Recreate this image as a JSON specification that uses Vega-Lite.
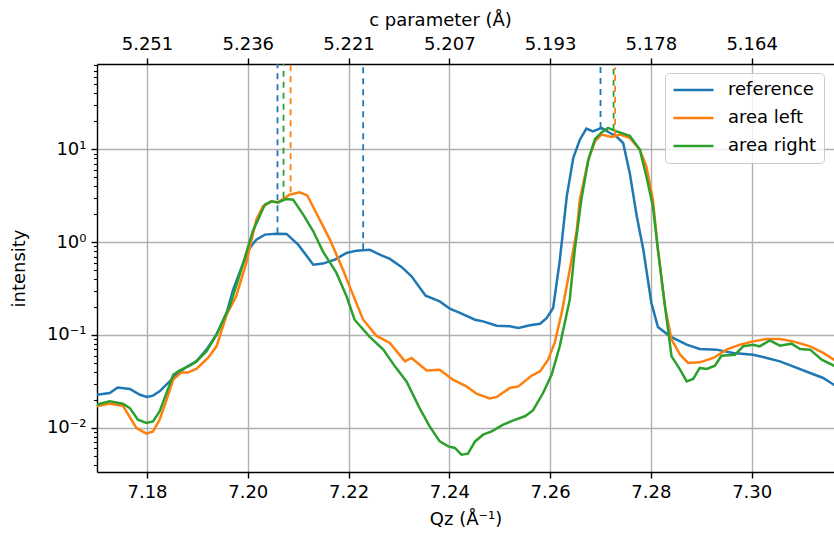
{
  "$schema": "https://vega.github.io/schema/vega-lite/v6.json",
  "width": 737,
  "height": 408,
  "autosize": {"type": "none"},
  "padding": {"left": 97, "top": 64, "right": 0, "bottom": 63},
  "config": {
    "font": "DejaVu Sans",
    "view": {"stroke": null},
    "axis": {
      "labelFont": "DejaVu Sans",
      "titleFont": "DejaVu Sans",
      "labelFontSize": 18,
      "titleFontSize": 18,
      "titleFontWeight": "normal",
      "labelColor": "#000000",
      "titleColor": "#000000",
      "domainColor": "#000000",
      "domainWidth": 1.4,
      "tickColor": "#000000",
      "tickWidth": 1.4,
      "tickSize": 6,
      "labelPadding": 5,
      "gridColor": "#b0b0b0",
      "gridWidth": 1.4
    }
  },
  "datasets": {
    "curves": [
      {"sample": "reference", "qz": 7.1700, "intensity": 0.0227},
      {"sample": "reference", "qz": 7.1726, "intensity": 0.0237},
      {"sample": "reference", "qz": 7.1742, "intensity": 0.0272},
      {"sample": "reference", "qz": 7.1766, "intensity": 0.0262},
      {"sample": "reference", "qz": 7.1786, "intensity": 0.0227},
      {"sample": "reference", "qz": 7.1800, "intensity": 0.0215},
      {"sample": "reference", "qz": 7.1812, "intensity": 0.0222},
      {"sample": "reference", "qz": 7.1825, "intensity": 0.0247},
      {"sample": "reference", "qz": 7.1845, "intensity": 0.0316},
      {"sample": "reference", "qz": 7.1858, "intensity": 0.0373},
      {"sample": "reference", "qz": 7.1878, "intensity": 0.0452},
      {"sample": "reference", "qz": 7.1898, "intensity": 0.0519},
      {"sample": "reference", "qz": 7.1918, "intensity": 0.0695},
      {"sample": "reference", "qz": 7.1938, "intensity": 0.101},
      {"sample": "reference", "qz": 7.1958, "intensity": 0.173},
      {"sample": "reference", "qz": 7.1971, "intensity": 0.308},
      {"sample": "reference", "qz": 7.1991, "intensity": 0.597},
      {"sample": "reference", "qz": 7.2004, "intensity": 0.866},
      {"sample": "reference", "qz": 7.2017, "intensity": 1.064},
      {"sample": "reference", "qz": 7.2034, "intensity": 1.205},
      {"sample": "reference", "qz": 7.2057, "intensity": 1.235},
      {"sample": "reference", "qz": 7.2077, "intensity": 1.226},
      {"sample": "reference", "qz": 7.2100, "intensity": 0.940},
      {"sample": "reference", "qz": 7.2130, "intensity": 0.572},
      {"sample": "reference", "qz": 7.2149, "intensity": 0.587},
      {"sample": "reference", "qz": 7.2173, "intensity": 0.648},
      {"sample": "reference", "qz": 7.2196, "intensity": 0.765},
      {"sample": "reference", "qz": 7.2216, "intensity": 0.810},
      {"sample": "reference", "qz": 7.2242, "intensity": 0.830},
      {"sample": "reference", "qz": 7.2262, "intensity": 0.733},
      {"sample": "reference", "qz": 7.2282, "intensity": 0.659},
      {"sample": "reference", "qz": 7.2305, "intensity": 0.541},
      {"sample": "reference", "qz": 7.2325, "intensity": 0.428},
      {"sample": "reference", "qz": 7.2353, "intensity": 0.265},
      {"sample": "reference", "qz": 7.2381, "intensity": 0.230},
      {"sample": "reference", "qz": 7.2401, "intensity": 0.192},
      {"sample": "reference", "qz": 7.2421, "intensity": 0.173},
      {"sample": "reference", "qz": 7.2451, "intensity": 0.146},
      {"sample": "reference", "qz": 7.2467, "intensity": 0.140},
      {"sample": "reference", "qz": 7.2494, "intensity": 0.126},
      {"sample": "reference", "qz": 7.2520, "intensity": 0.124},
      {"sample": "reference", "qz": 7.2537, "intensity": 0.119},
      {"sample": "reference", "qz": 7.2560, "intensity": 0.127},
      {"sample": "reference", "qz": 7.2580, "intensity": 0.132},
      {"sample": "reference", "qz": 7.2593, "intensity": 0.152},
      {"sample": "reference", "qz": 7.2606, "intensity": 0.195},
      {"sample": "reference", "qz": 7.2619, "intensity": 0.621},
      {"sample": "reference", "qz": 7.2633, "intensity": 3.09},
      {"sample": "reference", "qz": 7.2646, "intensity": 8.08},
      {"sample": "reference", "qz": 7.2659, "intensity": 12.7},
      {"sample": "reference", "qz": 7.2672, "intensity": 16.7},
      {"sample": "reference", "qz": 7.2685, "intensity": 15.6},
      {"sample": "reference", "qz": 7.2702, "intensity": 17.0},
      {"sample": "reference", "qz": 7.2719, "intensity": 15.0},
      {"sample": "reference", "qz": 7.2732, "intensity": 13.7},
      {"sample": "reference", "qz": 7.2745, "intensity": 11.7},
      {"sample": "reference", "qz": 7.2758, "intensity": 5.57},
      {"sample": "reference", "qz": 7.2772, "intensity": 1.90},
      {"sample": "reference", "qz": 7.2785, "intensity": 0.830},
      {"sample": "reference", "qz": 7.2801, "intensity": 0.221},
      {"sample": "reference", "qz": 7.2814, "intensity": 0.122},
      {"sample": "reference", "qz": 7.2838, "intensity": 0.0966},
      {"sample": "reference", "qz": 7.2871, "intensity": 0.0786},
      {"sample": "reference", "qz": 7.2897, "intensity": 0.0707},
      {"sample": "reference", "qz": 7.2930, "intensity": 0.0695},
      {"sample": "reference", "qz": 7.2963, "intensity": 0.0640},
      {"sample": "reference", "qz": 7.3003, "intensity": 0.0613},
      {"sample": "reference", "qz": 7.3030, "intensity": 0.0565},
      {"sample": "reference", "qz": 7.3056, "intensity": 0.0519},
      {"sample": "reference", "qz": 7.3082, "intensity": 0.0459},
      {"sample": "reference", "qz": 7.3116, "intensity": 0.0389},
      {"sample": "reference", "qz": 7.3142, "intensity": 0.0344},
      {"sample": "reference", "qz": 7.3163, "intensity": 0.0291},
      {"sample": "reference", "qz": 7.3175, "intensity": 0.0270},

      {"sample": "area left", "qz": 7.1700, "intensity": 0.0170},
      {"sample": "area left", "qz": 7.1726, "intensity": 0.0182},
      {"sample": "area left", "qz": 7.1752, "intensity": 0.0173},
      {"sample": "area left", "qz": 7.1779, "intensity": 0.00995},
      {"sample": "area left", "qz": 7.1799, "intensity": 0.00864},
      {"sample": "area left", "qz": 7.1812, "intensity": 0.00915},
      {"sample": "area left", "qz": 7.1825, "intensity": 0.0122},
      {"sample": "area left", "qz": 7.1839, "intensity": 0.0201},
      {"sample": "area left", "qz": 7.1852, "intensity": 0.0330},
      {"sample": "area left", "qz": 7.1868, "intensity": 0.0395},
      {"sample": "area left", "qz": 7.1881, "intensity": 0.0393},
      {"sample": "area left", "qz": 7.1898, "intensity": 0.0430},
      {"sample": "area left", "qz": 7.1921, "intensity": 0.0565},
      {"sample": "area left", "qz": 7.1938, "intensity": 0.0754},
      {"sample": "area left", "qz": 7.1958, "intensity": 0.165},
      {"sample": "area left", "qz": 7.1977, "intensity": 0.261},
      {"sample": "area left", "qz": 7.1997, "intensity": 0.597},
      {"sample": "area left", "qz": 7.2017, "intensity": 1.75},
      {"sample": "area left", "qz": 7.2030, "intensity": 2.43},
      {"sample": "area left", "qz": 7.2047, "intensity": 2.75},
      {"sample": "area left", "qz": 7.2060, "intensity": 2.68},
      {"sample": "area left", "qz": 7.2083, "intensity": 3.25},
      {"sample": "area left", "qz": 7.2103, "intensity": 3.44},
      {"sample": "area left", "qz": 7.2118, "intensity": 3.19},
      {"sample": "area left", "qz": 7.2136, "intensity": 2.06},
      {"sample": "area left", "qz": 7.2163, "intensity": 1.064},
      {"sample": "area left", "qz": 7.2189, "intensity": 0.505},
      {"sample": "area left", "qz": 7.2202, "intensity": 0.334},
      {"sample": "area left", "qz": 7.2229, "intensity": 0.146},
      {"sample": "area left", "qz": 7.2255, "intensity": 0.0983},
      {"sample": "area left", "qz": 7.2282, "intensity": 0.0820},
      {"sample": "area left", "qz": 7.2312, "intensity": 0.0519},
      {"sample": "area left", "qz": 7.2325, "intensity": 0.0565},
      {"sample": "area left", "qz": 7.2355, "intensity": 0.0415},
      {"sample": "area left", "qz": 7.2381, "intensity": 0.0423},
      {"sample": "area left", "qz": 7.2407, "intensity": 0.0330},
      {"sample": "area left", "qz": 7.2434, "intensity": 0.0279},
      {"sample": "area left", "qz": 7.2454, "intensity": 0.0233},
      {"sample": "area left", "qz": 7.2480, "intensity": 0.0207},
      {"sample": "area left", "qz": 7.2494, "intensity": 0.0215},
      {"sample": "area left", "qz": 7.2520, "intensity": 0.0268},
      {"sample": "area left", "qz": 7.2537, "intensity": 0.0279},
      {"sample": "area left", "qz": 7.2563, "intensity": 0.0364},
      {"sample": "area left", "qz": 7.2580, "intensity": 0.0405},
      {"sample": "area left", "qz": 7.2596, "intensity": 0.0542},
      {"sample": "area left", "qz": 7.2609, "intensity": 0.0820},
      {"sample": "area left", "qz": 7.2623, "intensity": 0.173},
      {"sample": "area left", "qz": 7.2639, "intensity": 0.505},
      {"sample": "area left", "qz": 7.2653, "intensity": 1.36},
      {"sample": "area left", "qz": 7.2659, "intensity": 2.87},
      {"sample": "area left", "qz": 7.2676, "intensity": 7.74},
      {"sample": "area left", "qz": 7.2689, "intensity": 12.2},
      {"sample": "area left", "qz": 7.2702, "intensity": 14.4},
      {"sample": "area left", "qz": 7.2722, "intensity": 13.6},
      {"sample": "area left", "qz": 7.2739, "intensity": 14.4},
      {"sample": "area left", "qz": 7.2758, "intensity": 13.3},
      {"sample": "area left", "qz": 7.2778, "intensity": 9.93},
      {"sample": "area left", "qz": 7.2791, "intensity": 6.56},
      {"sample": "area left", "qz": 7.2804, "intensity": 2.87},
      {"sample": "area left", "qz": 7.2814, "intensity": 0.830},
      {"sample": "area left", "qz": 7.2828, "intensity": 0.203},
      {"sample": "area left", "qz": 7.2841, "intensity": 0.0890},
      {"sample": "area left", "qz": 7.2858, "intensity": 0.0613},
      {"sample": "area left", "qz": 7.2874, "intensity": 0.0499},
      {"sample": "area left", "qz": 7.2897, "intensity": 0.0507},
      {"sample": "area left", "qz": 7.2924, "intensity": 0.0565},
      {"sample": "area left", "qz": 7.2950, "intensity": 0.0695},
      {"sample": "area left", "qz": 7.2977, "intensity": 0.0786},
      {"sample": "area left", "qz": 7.3003, "intensity": 0.0853},
      {"sample": "area left", "qz": 7.3030, "intensity": 0.0905},
      {"sample": "area left", "qz": 7.3056, "intensity": 0.0905},
      {"sample": "area left", "qz": 7.3082, "intensity": 0.0853},
      {"sample": "area left", "qz": 7.3116, "intensity": 0.0754},
      {"sample": "area left", "qz": 7.3142, "intensity": 0.0640},
      {"sample": "area left", "qz": 7.3163, "intensity": 0.0542},
      {"sample": "area left", "qz": 7.3175, "intensity": 0.0503},

      {"sample": "area right", "qz": 7.1700, "intensity": 0.0177},
      {"sample": "area right", "qz": 7.1726, "intensity": 0.0193},
      {"sample": "area right", "qz": 7.1752, "intensity": 0.0182},
      {"sample": "area right", "qz": 7.1766, "intensity": 0.0163},
      {"sample": "area right", "qz": 7.1782, "intensity": 0.0122},
      {"sample": "area right", "qz": 7.1799, "intensity": 0.0113},
      {"sample": "area right", "qz": 7.1812, "intensity": 0.0117},
      {"sample": "area right", "qz": 7.1825, "intensity": 0.0150},
      {"sample": "area right", "qz": 7.1839, "intensity": 0.0239},
      {"sample": "area right", "qz": 7.1852, "intensity": 0.0373},
      {"sample": "area right", "qz": 7.1865, "intensity": 0.0415},
      {"sample": "area right", "qz": 7.1885, "intensity": 0.0467},
      {"sample": "area right", "qz": 7.1898, "intensity": 0.0519},
      {"sample": "area right", "qz": 7.1918, "intensity": 0.0666},
      {"sample": "area right", "qz": 7.1938, "intensity": 0.101},
      {"sample": "area right", "qz": 7.1964, "intensity": 0.203},
      {"sample": "area right", "qz": 7.1981, "intensity": 0.394},
      {"sample": "area right", "qz": 7.1991, "intensity": 0.597},
      {"sample": "area right", "qz": 7.2010, "intensity": 1.31},
      {"sample": "area right", "qz": 7.2034, "intensity": 2.54},
      {"sample": "area right", "qz": 7.2047, "intensity": 2.75},
      {"sample": "area right", "qz": 7.2060, "intensity": 2.68},
      {"sample": "area right", "qz": 7.2077, "intensity": 2.92},
      {"sample": "area right", "qz": 7.2090, "intensity": 2.87},
      {"sample": "area right", "qz": 7.2110, "intensity": 1.98},
      {"sample": "area right", "qz": 7.2130, "intensity": 1.31},
      {"sample": "area right", "qz": 7.2149, "intensity": 0.796},
      {"sample": "area right", "qz": 7.2176, "intensity": 0.466},
      {"sample": "area right", "qz": 7.2196, "intensity": 0.261},
      {"sample": "area right", "qz": 7.2212, "intensity": 0.146},
      {"sample": "area right", "qz": 7.2242, "intensity": 0.0952},
      {"sample": "area right", "qz": 7.2269, "intensity": 0.0695},
      {"sample": "area right", "qz": 7.2292, "intensity": 0.0459},
      {"sample": "area right", "qz": 7.2315, "intensity": 0.0316},
      {"sample": "area right", "qz": 7.2341, "intensity": 0.0163},
      {"sample": "area right", "qz": 7.2361, "intensity": 0.01035},
      {"sample": "area right", "qz": 7.2381, "intensity": 0.00713},
      {"sample": "area right", "qz": 7.2398, "intensity": 0.00630},
      {"sample": "area right", "qz": 7.2411, "intensity": 0.00606},
      {"sample": "area right", "qz": 7.2424, "intensity": 0.00513},
      {"sample": "area right", "qz": 7.2437, "intensity": 0.00526},
      {"sample": "area right", "qz": 7.2451, "intensity": 0.00713},
      {"sample": "area right", "qz": 7.2467, "intensity": 0.00843},
      {"sample": "area right", "qz": 7.2484, "intensity": 0.00915},
      {"sample": "area right", "qz": 7.2507, "intensity": 0.0108},
      {"sample": "area right", "qz": 7.2527, "intensity": 0.0120},
      {"sample": "area right", "qz": 7.2550, "intensity": 0.0133},
      {"sample": "area right", "qz": 7.2566, "intensity": 0.0154},
      {"sample": "area right", "qz": 7.2586, "intensity": 0.0237},
      {"sample": "area right", "qz": 7.2603, "intensity": 0.0373},
      {"sample": "area right", "qz": 7.2619, "intensity": 0.0754},
      {"sample": "area right", "qz": 7.2639, "intensity": 0.240},
      {"sample": "area right", "qz": 7.2649, "intensity": 0.830},
      {"sample": "area right", "qz": 7.2662, "intensity": 2.87},
      {"sample": "area right", "qz": 7.2676, "intensity": 7.74},
      {"sample": "area right", "qz": 7.2689, "intensity": 12.9},
      {"sample": "area right", "qz": 7.2702, "intensity": 15.2},
      {"sample": "area right", "qz": 7.2715, "intensity": 17.0},
      {"sample": "area right", "qz": 7.2732, "intensity": 15.6},
      {"sample": "area right", "qz": 7.2758, "intensity": 14.0},
      {"sample": "area right", "qz": 7.2778, "intensity": 9.93},
      {"sample": "area right", "qz": 7.2791, "intensity": 5.12},
      {"sample": "area right", "qz": 7.2804, "intensity": 2.43},
      {"sample": "area right", "qz": 7.2814, "intensity": 0.830},
      {"sample": "area right", "qz": 7.2828, "intensity": 0.203},
      {"sample": "area right", "qz": 7.2841, "intensity": 0.0588},
      {"sample": "area right", "qz": 7.2858, "intensity": 0.0423},
      {"sample": "area right", "qz": 7.2871, "intensity": 0.0316},
      {"sample": "area right", "qz": 7.2884, "intensity": 0.0336},
      {"sample": "area right", "qz": 7.2897, "intensity": 0.0441},
      {"sample": "area right", "qz": 7.2911, "intensity": 0.0430},
      {"sample": "area right", "qz": 7.2927, "intensity": 0.0467},
      {"sample": "area right", "qz": 7.2940, "intensity": 0.0598},
      {"sample": "area right", "qz": 7.2967, "intensity": 0.0613},
      {"sample": "area right", "qz": 7.2983, "intensity": 0.0754},
      {"sample": "area right", "qz": 7.3003, "intensity": 0.0786},
      {"sample": "area right", "qz": 7.3016, "intensity": 0.0754},
      {"sample": "area right", "qz": 7.3036, "intensity": 0.0875},
      {"sample": "area right", "qz": 7.3056, "intensity": 0.0767},
      {"sample": "area right", "qz": 7.3079, "intensity": 0.0806},
      {"sample": "area right", "qz": 7.3096, "intensity": 0.0707},
      {"sample": "area right", "qz": 7.3116, "intensity": 0.0695},
      {"sample": "area right", "qz": 7.3139, "intensity": 0.0542},
      {"sample": "area right", "qz": 7.3163, "intensity": 0.0467},
      {"sample": "area right", "qz": 7.3175, "intensity": 0.0433}
    ],
    "peaks": [
      {"sample": "reference", "qz": 7.2059, "intensity": 1.25, "top": 83},
      {"sample": "area right", "qz": 7.2071, "intensity": 3.0, "top": 83},
      {"sample": "area left", "qz": 7.2085, "intensity": 3.45, "top": 83},
      {"sample": "reference", "qz": 7.2229, "intensity": 0.84, "top": 83},
      {"sample": "reference", "qz": 7.2700, "intensity": 17.0, "top": 83},
      {"sample": "area right", "qz": 7.2726, "intensity": 16.2, "top": 76},
      {"sample": "area left", "qz": 7.2729, "intensity": 14.0, "top": 76}
    ]
  },
  "layer": [
    {
      "data": {"name": "curves"},
      "mark": {"type": "line", "strokeWidth": 2.5, "clip": true},
      "encoding": {
        "x": {
          "field": "qz",
          "type": "quantitative",
          "scale": {"domain": [7.17008, 7.31634], "nice": false, "zero": false},
          "axis": {
            "orient": "bottom",
            "values": [7.18, 7.20, 7.22, 7.24, 7.26, 7.28, 7.30],
            "format": ".2f",
            "grid": true,
            "title": "Qz (Å⁻¹)",
            "titlePadding": 9
          }
        },
        "y": {
          "field": "intensity",
          "type": "quantitative",
          "scale": {"type": "log", "domain": [0.00334, 83], "nice": false},
          "axis": {
            "title": "intensity",
            "titlePadding": 18,
            "grid": true,
            "values": [0.004, 0.005, 0.006, 0.007, 0.008, 0.009,
                       0.01, 0.02, 0.03, 0.04, 0.05, 0.06, 0.07, 0.08, 0.09,
                       0.1, 0.2, 0.3, 0.4, 0.5, 0.6, 0.7, 0.8, 0.9,
                       1, 2, 3, 4, 5, 6, 7, 8, 9,
                       10, 20, 30, 40, 50, 60, 70, 80],
            "labelExpr": "datum.value == 10 ? '10¹' : datum.value == 1 ? '10⁰' : datum.value == 0.1 ? '10⁻¹' : datum.value == 0.01 ? '10⁻²' : ''",
            "labelOverlap": false,
            "labelBound": false,
            "tickSize": {"condition": {"test": "indexof([0.01, 0.1, 1, 10], datum.value) >= 0", "value": 6}, "value": 3.5},
            "tickWidth": {"condition": {"test": "indexof([0.01, 0.1, 1, 10], datum.value) >= 0", "value": 1.4}, "value": 1.1},
            "gridOpacity": {"condition": {"test": "indexof([0.01, 0.1, 1, 10], datum.value) >= 0", "value": 1}, "value": 0}
          }
        },
        "color": {
          "field": "sample",
          "type": "nominal",
          "scale": {
            "domain": ["reference", "area left", "area right"],
            "range": ["#1f77b4", "#ff7f0e", "#2ca02c"]
          },
          "legend": {
            "title": null,
            "orient": "none",
            "legendX": 568,
            "legendY": 9,
            "symbolType": "stroke",
            "symbolSize": 1600,
            "symbolStrokeWidth": 2.5,
            "labelFont": "DejaVu Sans",
            "labelFontSize": 18,
            "labelColor": "#000000",
            "labelOffset": 13,
            "clipHeight": 20,
            "rowPadding": 8,
            "padding": 7,
            "fillColor": "rgba(255,255,255,0.8)",
            "strokeColor": "#cccccc",
            "cornerRadius": 4
          }
        }
      }
    },
    {
      "data": {"name": "peaks"},
      "mark": {"type": "rule", "strokeWidth": 1.8, "strokeDash": [6, 5], "clip": true},
      "encoding": {
        "x": {
          "field": "qz",
          "type": "quantitative",
          "axis": {
            "orient": "top",
            "values": [7.18, 7.20, 7.22, 7.24, 7.26, 7.28, 7.30],
            "labelExpr": "format(37.69911184 / datum.value, '.3f')",
            "grid": false,
            "title": "c parameter (Å)",
            "titleX": 343,
            "titlePadding": 6
          }
        },
        "y": {"field": "intensity", "type": "quantitative", "title": "intensity"},
        "y2": {"field": "top"},
        "color": {"field": "sample", "type": "nominal"}
      }
    }
  ],
  "resolve": {"axis": {"x": "independent"}}
}
